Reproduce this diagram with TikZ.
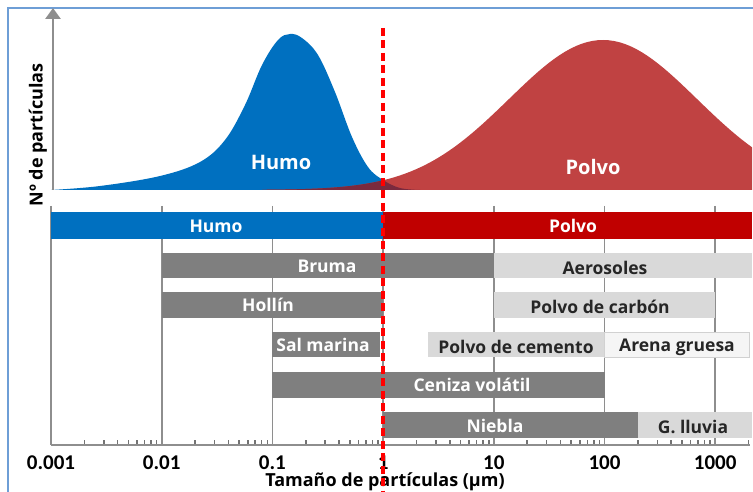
\documentclass[tikz,border=0pt]{standalone}
\usepackage{fontspec}
\setmainfont{Open Sans}
\newfontfamily\tickfont{Carlito}
\usepackage{xcolor}
\usepackage{tikz}
\usetikzlibrary{calc, arrows.meta}
\definecolor{humoblue}{HTML}{0070C0}
\definecolor{polvored}{HTML}{C00000}
\definecolor{curvered}{HTML}{C04242}
\definecolor{overlapred}{HTML}{7A2A3E}
\definecolor{bardark}{HTML}{7F7F7F}
\definecolor{barlight}{HTML}{D9D9D9}
\definecolor{axisgray}{HTML}{8E8E8E}
\definecolor{frameblue}{HTML}{6E9ED6}
\tikzset{
	darkbar/.style = {fill=bardark},
	lightbar/.style = {fill=barlight},
	whitelabel/.style = {text=white, font=\bfseries\fontsize{17.5}{19}\selectfont},
	greylabel/.style = {text=black!85, font=\bfseries\fontsize{17.5}{19}\selectfont},
	curvelabel/.style = {text=white, font=\bfseries\fontsize{20}{22}\selectfont},
	axistitle/.style = {text=black, font=\bfseries\fontsize{18}{20}\selectfont},
	ticklabel/.style = {text=black, font=\tickfont\bfseries\fontsize{21}{23}\selectfont},
	gridline/.style = {axisgray, line width=1.6pt},
	minortick/.style = {black!55, line width=1.6pt},
}

\begin{document}
\begin{tikzpicture}[x=1pt, y=-1pt, declare function={lx(\e) = 51 + 110.7*(\e + 3);}]
	\def\base{190};
	\def\axis{445};
	\def\humocurve{plot [smooth, tension=0.6] coordinates {(51,190) (100,186) (160,176) (200,162) (225,140) (245,105) (262,65) (278,40) (290,34) (302,38) (318,55) (335,92) (352,137) (368,167) (383,180) (400,188) (420,190)}};
	\def\polvocurve{plot [domain=262:752, samples=90] (\x, {\base - 150*exp(-((\x - 603)/94)^2/2)})};
	
	\useasboundingbox (0,0) rectangle (753,492);
	\draw [frameblue, line width=1.5pt] (8,492) -- (8,8) -- (753,8);
	
	% distribution curves
	\fill [humoblue] \humocurve -- cycle;
	\fill [curvered] \polvocurve -- (752,\base) -- cycle;
	\begin{scope}
		\clip \humocurve -- cycle;
		\fill [overlapred] \polvocurve -- (752,\base) -- cycle;
	\end{scope}
	\node [curvelabel] (humopeak) at (281,162) {Humo};
	\node [curvelabel] (polvopeak) at (593,167) {Polvo};
	
	\draw [axisgray, line width=2.8pt, -{Triangle[width=15pt, length=11pt]}] (53,\base) -- (53,8);
	\node [axistitle, rotate=90] (ylabel) at (38,135) {Nº de partículas};
	
	% grid and x axis
	\foreach \e in {-3,...,3}
		\draw [gridline] ({lx(\e)},206) -- ({lx(\e)},\axis);
	\foreach \e in {-3,...,2}
		\foreach \k in {2,...,9}
			\draw [minortick] ({lx(\e + log10(\k))},\axis) -- ++(0,-5);
	\draw [minortick] ({lx(3 + log10(2))},\axis) -- ++(0,-5);
	\draw [gridline, line width=2pt] ({lx(-3)},\axis) -- (750,\axis);
	\foreach \t [count=\i from 0] in {0.001, 0.01, 0.1, 1, 10, 100, 1000}
		\node [ticklabel] (tick\i) at ({lx(\i - 3)},463) {\t};
	\node [axistitle] (xlabel) at (385,482) {Tamaño de partículas (µm)};
	
	% particle bars
	\fill [humoblue] ({lx(-3)},212) rectangle (383,239);
	\fill [polvored] (383,212) rectangle (752,239);
	\node [whitelabel] (humo) at (216,226) {Humo};
	\node [whitelabel] (polvo) at (573,226) {Polvo};
	
	\fill [darkbar] ({lx(-2)},253) rectangle ({lx(1)},278);
	\fill [lightbar] ({lx(1)},253) rectangle (752,278);
	\node [whitelabel] (bruma) at (327,266) {Bruma};
	\node [greylabel] (aerosoles) at (605,268) {Aerosoles};
	
	\fill [darkbar] ({lx(-2)},292) rectangle (383,318);
	\fill [lightbar] ({lx(1)},292) rectangle ({lx(3)},318);
	\node [whitelabel] (hollin) at (268,305) {Hollín};
	\node [greylabel] (carbon) at (600,307) {Polvo de carbón};
	
	\fill [darkbar] ({lx(-1)},332) rectangle (380,357);
	\fill [lightbar] (428,332) rectangle ({lx(2)},357);
	\filldraw [fill=black!4, draw=black!18, line width=0.6pt] ({lx(2)},332) rectangle (749,357);
	\node [whitelabel] (salmarina) at (323,345) {Sal marina};
	\node [greylabel] (cemento) at (516,347) {Polvo de cemento};
	\node [greylabel] (arena) at (677,347) {Arena gruesa};
	
	\fill [darkbar] ({lx(-1)},372) rectangle ({lx(2)},398);
	\node [whitelabel] (ceniza) at (472,385) {Ceniza volátil};
	
	\fill [darkbar] (383,412) rectangle ({lx(log10(200))},438);
	\fill [lightbar] ({lx(log10(200))},412) rectangle (752,438);
	\node [whitelabel] (niebla) at (495,426) {Niebla};
	\node [greylabel] (lluvia) at (693,427) {G. lluvia};
	
	\draw [red, line width=3.2pt, dash pattern=on 8pt off 4.5pt] (383,28) -- (383,492);
\end{tikzpicture}
\end{document}
